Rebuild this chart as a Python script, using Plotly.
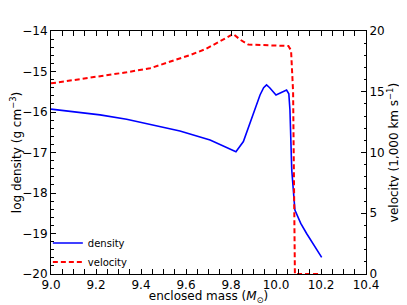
import plotly.graph_objects as go

# enclosed mass (M_sun) and log density (g cm^-3)
density_mass = [9.0, 9.1, 9.218, 9.336, 9.44, 9.573, 9.707, 9.773, 9.822, 9.855, 9.9, 9.929,
                9.945, 9.958, 9.972, 10.0, 10.047, 10.057, 10.062, 10.07, 10.084, 10.11, 10.136, 10.17, 10.203]
log_density = [-15.93, -15.99, -16.07, -16.18, -16.30, -16.47, -16.69, -16.86, -16.98, -16.73, -16.03, -15.58,
               -15.40, -15.33, -15.40, -15.58, -15.46, -15.55, -15.95, -17.43, -18.42, -18.75, -19.0, -19.3, -19.59]

# enclosed mass (M_sun) and velocity (1,000 km/s)
velocity_mass = [9.0, 9.218, 9.336, 9.44, 9.544, 9.618, 9.688, 9.751, 9.788, 9.81, 9.843, 9.877,
                 10.055, 10.067, 10.076, 10.084, 10.203]
velocity = [15.69, 16.24, 16.6, 16.93, 17.55, 18.02, 18.52, 19.18, 19.53, 19.75, 19.26, 18.88,
            18.77, 18.4, 15.0, 0.0, 0.0]

x_ticks = [9.0, 9.2, 9.4, 9.6, 9.8, 10.0, 10.2, 10.4]
y_ticks = [-20, -19, -18, -17, -16, -15, -14]
y2_ticks = [0, 5, 10, 15, 20]

font = "DejaVu Sans, Liberation Sans, sans-serif"

fig = go.Figure()
fig.add_trace(go.Scatter(x=density_mass, y=log_density, mode="lines", name="density",
                         line=dict(color="#0000ff", width=1.6), yaxis="y"))
fig.add_trace(go.Scatter(x=velocity_mass, y=velocity, mode="lines", name="velocity",
                         line=dict(color="#ff0000", width=2, dash="5px,3px"), yaxis="y2"))

# the page body has an 8px margin, so the figure is 8px smaller on each side
fig.update_layout(
    width=399, height=297,
    margin=dict(l=43, r=41, t=23, b=31, autoexpand=False),
    paper_bgcolor="white", plot_bgcolor="white",
    font=dict(family=font, size=12, color="black"),
    showlegend=True,
    legend=dict(x=-0.01, y=-0.01, xanchor="left", yanchor="bottom",
                bgcolor="rgba(0,0,0,0)", font=dict(size=10), itemwidth=30,
                tracegroupgap=0),
    xaxis=dict(range=[9.0, 10.4], tickvals=x_ticks, ticktext=[f"{v:.1f}" for v in x_ticks],
               ticks="inside", ticklen=5, tickcolor="black", showline=True, linecolor="black",
               linewidth=1, mirror="allticks", showgrid=False, zeroline=False, automargin=False,
               minor=dict(dtick=0.05, tick0=9.0, ticks="inside", ticklen=2.5, tickcolor="black", showgrid=False),
               title=dict(text="enclosed mass (<i>M</i><sub>⊙</sub>)", font=dict(size=12), standoff=0)),
    yaxis=dict(range=[-20, -14], tickvals=y_ticks, ticktext=[f"−{abs(v)}" for v in y_ticks],
               ticks="inside", ticklen=5, tickcolor="black", showline=True, linecolor="black",
               linewidth=1, mirror=False, showgrid=False, zeroline=False, automargin=False,
               minor=dict(dtick=0.2, tick0=-20, ticks="inside", ticklen=2.5, tickcolor="black", showgrid=False),
               title=dict(text="log density (g cm<sup>−3</sup>)", font=dict(size=12), standoff=4)),
    yaxis2=dict(range=[0, 20], tickvals=y2_ticks, overlaying="y", side="right",
                ticks="inside", ticklen=5, tickcolor="black", showline=True, linecolor="black",
                linewidth=1, showgrid=False, zeroline=False, automargin=False,
                minor=dict(dtick=1, tick0=0, ticks="inside", ticklen=2.5, tickcolor="black", showgrid=False),
                title=dict(text="velocity (1,000 km s<sup>−1</sup>)", font=dict(size=12), standoff=4)),
)

fig.write_html("out.html")
